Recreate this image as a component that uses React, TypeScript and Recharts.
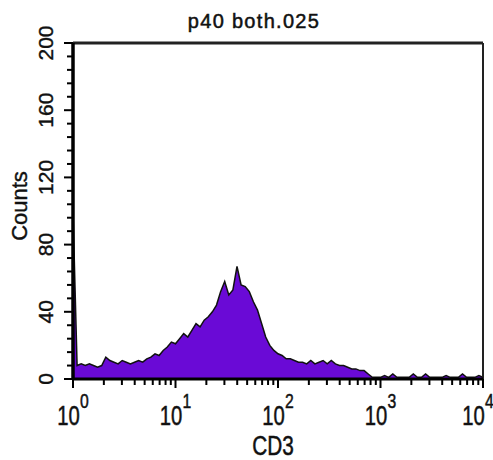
import { AreaChart, Area, XAxis, YAxis, ReferenceLine } from "recharts";

const TITLE = "p40 both.025";
const X_LABEL = "CD3";
const Y_LABEL = "Counts";

// histogram channels, evenly spaced over 4 log decades
const CHANNELS_PER_DECADE = 25;
const COUNTS = [
  100, 8, 9, 8, 9, 8, 7, 8, 13, 11,
  10, 9, 11, 10, 9, 10, 11, 10, 12, 13,
  15, 14, 17, 19, 22, 21, 24, 27, 25, 29,
  33, 31, 35, 37, 40, 44, 52, 58, 50, 53,
  67, 56, 55, 52, 46, 41, 33, 25, 20, 17,
  15, 14, 12, 12, 11, 10, 10, 9, 11, 9,
  10, 11, 9, 11, 9, 8, 8, 7, 6, 6,
  5, 5, 3, 1, 1, 1, 2, 1, 3, 1,
  1, 1, 1, 3, 1, 1, 3, 1, 1, 1,
  1, 2, 1, 1, 1, 3, 1, 1, 1, 2, 1,
];

const X_MAJOR = [1, 10, 100, 1000, 10000];
const X_MINOR = [
  2, 3, 4, 5, 6, 7, 8, 9,
  20, 30, 40, 50, 60, 70, 80, 90,
  200, 300, 400, 500, 600, 700, 800, 900,
  2000, 3000, 4000, 5000, 6000, 7000, 8000, 9000,
];
const Y_MAJOR = [0, 40, 80, 120, 160, 200];
const Y_MINOR = [8, 16, 24, 32, 48, 56, 64, 72, 88, 96, 104, 112, 128, 136, 144, 152, 168, 176, 184, 192];

const data = COUNTS.map((count, i) => ({
  cd3: Math.pow(10, i / CHANNELS_PER_DECADE),
  count,
}));

const X_TICKS = [...X_MAJOR, ...X_MINOR].sort((a, b) => a - b);
const Y_TICKS = [...Y_MAJOR, ...Y_MINOR].sort((a, b) => a - b);

const FONT = "'Liberation Sans', Arial, sans-serif";
const INK = "#111";

const XTick = ({ x, y, payload }: any) => {
  const major = X_MAJOR.includes(payload.value);
  if (!major) {
    return <line x1={x} x2={x} y1={y} y2={y + 6} stroke="#000" strokeWidth={2} />;
  }
  const exp = Math.round(Math.log10(payload.value));
  // last label sits on the chart edge, nudge it in so it isn't clipped
  const lx = exp === 4 ? x - 5 : x;
  return (
    <g>
      <line x1={x} x2={x} y1={y} y2={y + 9} stroke="#000" strokeWidth={2} />
      <g transform={`translate(${lx},${y + 46}) scale(0.75,1)`}>
        <text x={0} y={0} textAnchor="middle" fontSize={27} fill={INK} stroke={INK} strokeWidth={0.5} fontFamily={FONT}>
          10
          <tspan dy={-17} fontSize={21}>{exp}</tspan>
        </text>
      </g>
    </g>
  );
};

const YTick = ({ x, y, payload }: any) => {
  const major = Y_MAJOR.includes(payload.value);
  if (!major) {
    return <line x1={x} x2={x - 6} y1={y} y2={y} stroke="#000" strokeWidth={2} />;
  }
  const lx = x - 20;
  return (
    <g>
      <line x1={x} x2={x - 9} y1={y} y2={y} stroke="#000" strokeWidth={2} />
      <text
        x={lx}
        y={y}
        transform={`rotate(-90, ${lx}, ${y})`}
        textAnchor="middle"
        fontSize={21}
        fill={INK}
        stroke={INK}
        strokeWidth={0.4}
        fontFamily={FONT}
      >
        {payload.value}
      </text>
    </g>
  );
};

export default function App() {
  return (
    <div style={{ position: "absolute", left: 0, top: 0, width: 493, height: 460, background: "#fff" }}>
      <svg width={493} height={40} style={{ position: "absolute", left: 0, top: 0 }}>
        <text
          x={254}
          y={28}
          textAnchor="middle"
          fontSize={20}
          letterSpacing={1.3}
          fill={INK}
          stroke={INK}
          strokeWidth={0.5}
          fontFamily={FONT}
        >
          {TITLE}
        </text>
      </svg>
      <AreaChart
        width={493}
        height={460}
        data={data}
        margin={{ top: 43, right: 10, left: 0, bottom: 0 }}
      >
        <XAxis
          dataKey="cd3"
          type="number"
          scale="log"
          domain={[1, 10000]}
          ticks={X_TICKS}
          interval={0}
          height={81}
          axisLine={{ stroke: "#000", strokeWidth: 3 }}
          tickSize={0}
          tickMargin={0}
          tickLine={false}
          tick={XTick}
          allowDataOverflow
          label={{
            content: ({ viewBox }: any) => (
              <g transform={`translate(${viewBox.x + viewBox.width / 2 - 5},${viewBox.y + 76}) scale(0.77,1)`}>
                <text x={0} y={0} textAnchor="middle" fontSize={27} fill={INK} stroke={INK} strokeWidth={0.5} fontFamily={FONT}>
                  {X_LABEL}
                </text>
              </g>
            ),
          }}
        />
        <YAxis
          type="number"
          domain={[0, 200]}
          ticks={Y_TICKS}
          interval={0}
          width={73}
          axisLine={{ stroke: "#000", strokeWidth: 3.5 }}
          tickSize={0}
          tickMargin={0}
          tickLine={false}
          tick={YTick}
          label={{
            content: ({ viewBox }: any) => {
              const lx = viewBox.x + 27;
              const ly = viewBox.y + viewBox.height / 2 - 5;
              return (
                <text
                  x={lx}
                  y={ly}
                  transform={`rotate(-90, ${lx}, ${ly})`}
                  textAnchor="middle"
                  fontSize={22}
                  fill={INK}
                  stroke={INK}
                  strokeWidth={0.4}
                  fontFamily={FONT}
                >
                  {Y_LABEL}
                </text>
              );
            },
          }}
        />
        <Area
          type="linear"
          dataKey="count"
          stroke="#111"
          strokeWidth={1.5}
          fill="#6a0ad6"
          fillOpacity={1}
          dot={false}
          activeDot={false}
          isAnimationActive={false}
        />
        <ReferenceLine y={200} stroke="#222" strokeWidth={3} />
        <ReferenceLine x={10000} stroke="#222" strokeWidth={2} />
      </AreaChart>
    </div>
  );
}
